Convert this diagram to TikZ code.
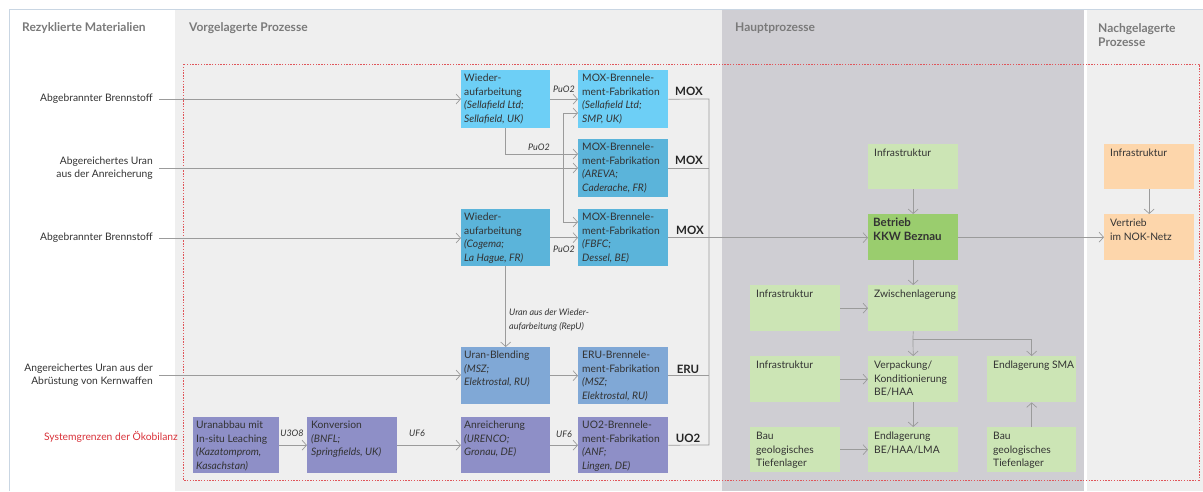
\documentclass[tikz,border=0pt]{standalone}
\usepackage{fontspec}
\setmainfont{Lato}
\usetikzlibrary{arrows.meta}
\definecolor{bgL}{HTML}{EFEFEF}
\definecolor{bgD}{HTML}{CFCED3}
\definecolor{frameC}{HTML}{C9D6E3}
\definecolor{redC}{HTML}{E0555A}
\definecolor{redT}{HTML}{D9323A}
\definecolor{lineC}{HTML}{9B9B9B}
\definecolor{cyanA}{HTML}{6DCFF6}
\definecolor{cyanB}{HTML}{5BB4DA}
\definecolor{steel}{HTML}{80A8D6}
\definecolor{lav}{HTML}{8E8FC7}
\definecolor{grnL}{HTML}{CCE5B5}
\definecolor{grnD}{HTML}{9ACD6E}
\definecolor{orn}{HTML}{FDD6AB}
\definecolor{hdr}{HTML}{7A7A7A}
\definecolor{txt}{HTML}{333333}
\newcommand{\mkbox}[9]{% name x y w h fill padx pady text
  \node[boxst, fill=#6, minimum width=#4pt, minimum height=#5pt] (#1) at (#2,#3) {};
  \node[btxt] (#1-t) at ([xshift=#7pt,yshift=-#8pt]#1.north west) {#9};
}
\begin{document}
\begin{tikzpicture}[x=1pt,y=-1pt,
  boxst/.style={draw=none, inner sep=0pt, anchor=north west},
  btxt/.style={anchor=north west, inner sep=0pt, align=left, font=\fontsize{10.3}{13.6}\selectfont, text=txt},
  ln/.style={draw=lineC, line width=0.7pt},
  arr/.style={ln, -{Straight Barb[length=4.5pt,width=10pt]}},
  hd/.style={font=\bfseries\fontsize{12}{14}\selectfont, text=hdr, inner sep=0pt, align=left},
  inl/.style={font=\fontsize{10.3}{13.2}\selectfont, text=txt, inner sep=0pt, align=right, anchor=east},
  sm/.style={font=\itshape\fontsize{9}{13.5}\selectfont, text=txt, inner sep=0pt, align=left},
  fl/.style={font=\bfseries\fontsize{11.5}{13}\selectfont, text=black!85, inner sep=0pt}
]
\useasboundingbox (0,0) rectangle (1203,491);
% panels
\fill[white] (0,0) rectangle (1203,491);
\fill[bgL] (175,9) rectangle (722,491);
\fill[bgD] (722,9) rectangle (1084,491);
\fill[bgL] (1087,9) rectangle (1203,491);
\draw[frameC, line width=0.8pt] (9,491) -- (9,9) -- (1203,9);
% headers
\node[hd, anchor=west] (h1) at (22,28) {Rezyklierte Materialien};
\node[hd, anchor=west] (h2) at (189,28) {Vorgelagerte Prozesse};
\node[hd, anchor=west] (h3) at (735,28) {Hauptprozesse};
\node[hd, anchor=west] (h4) at (1098,35) {Nachgelagerte\\Prozesse};
% system boundary
\draw[redC, line width=0.6pt, dash pattern=on 1.4pt off 1.4pt] (183,64) rectangle (1199,480);
\node[font=\fontsize{10.3}{12}\selectfont, text=redT, inner sep=0pt, anchor=east] (sys) at (178,437) {Systemgrenzen der Ökobilanz};
% input labels
\node[inl] (in1) at (153,99) {Abgebrannter Brennstoff};
\node[inl] (in2) at (153,168) {Abgereichertes Uran\\aus der Anreicherung};
\node[inl] (in3) at (153,238) {Abgebrannter Brennstoff};
\node[inl] (in4) at (153,375) {Angereichertes Uran aus der\\Abrüstung von Kernwaffen};
% blue boxes
\mkbox{wa1}{461}{70}{89}{58}{cyanA}{3}{4}{Wieder-\\aufarbeitung\\\textit{(Sellafield Ltd;}\\\textit{Sellafield, UK)}}
\mkbox{mox1}{578}{70}{90}{58}{cyanA}{4}{4}{MOX-Brennele-\\ment-Fabrikation\\\textit{(Sellafield Ltd;}\\\textit{SMP, UK)}}
\mkbox{mox2}{578}{139}{90}{58}{cyanB}{4}{4}{MOX-Brennele-\\ment-Fabrikation\\\textit{(AREVA;}\\\textit{Caderache, FR)}}
\mkbox{wa2}{461}{209}{89}{57}{cyanB}{3}{4}{Wieder-\\aufarbeitung\\\textit{(Cogema;}\\\textit{La Hague, FR)}}
\mkbox{mox3}{578}{209}{90}{57}{cyanB}{4}{4}{MOX-Brennele-\\ment-Fabrikation\\\textit{(FBFC;}\\\textit{Dessel, BE)}}
\mkbox{ub}{461}{347}{89}{57}{steel}{3}{4}{Uran-Blending\\\textit{(MSZ;}\\\textit{Elektrostal, RU)}}
\mkbox{eru}{578}{347}{90}{57}{steel}{4}{4}{ERU-Brennele-\\ment-Fabrikation\\\textit{(MSZ;}\\\textit{Elektrostal, RU)}}
\mkbox{um}{193}{417}{86}{56}{lav}{3}{4}{Uranabbau mit\\In-situ Leaching\\\textit{(Kazatomprom,}\\\textit{Kasachstan)}}
\mkbox{kon}{307}{417}{90}{56}{lav}{4}{4}{Konversion\\\textit{(BNFL;}\\\textit{Springfields, UK)}}
\mkbox{anr}{461}{417}{89}{56}{lav}{3}{4}{Anreicherung\\\textit{(URENCO;}\\\textit{Gronau, DE)}}
\mkbox{uo2}{578}{417}{90}{56}{lav}{4}{4}{UO2-Brennele-\\ment-Fabrikation\\\textit{(ANF;}\\\textit{Lingen, DE)}}
% green / orange boxes
\mkbox{inf1}{868}{144}{90}{45}{grnL}{6}{5}{Infrastruktur}
\mkbox{betr}{868}{214}{90}{46}{grnD}{5}{4}{\bfseries\fontsize{11.5}{14}\selectfont Betrieb\\\bfseries\fontsize{11.5}{14}\selectfont KKW Beznau}
\mkbox{zw}{868}{285}{90}{46}{grnL}{6}{5}{Zwischenlagerung}
\mkbox{inf2}{750}{285}{90}{46}{grnL}{6}{5}{Infrastruktur}
\mkbox{verp}{868}{356}{90}{46}{grnL}{6}{5}{Verpackung/\\Konditionierung\\BE/HAA}
\mkbox{inf3}{750}{356}{90}{46}{grnL}{6}{5}{Infrastruktur}
\mkbox{sma}{987}{356}{89}{46}{grnL}{6}{5}{Endlagerung SMA}
\mkbox{endl}{868}{427}{90}{45}{grnL}{6}{5}{Endlagerung\\BE/HAA/LMA}
\mkbox{bau1}{750}{427}{90}{45}{grnL}{6}{5}{Bau\\geologisches\\Tiefenlager}
\mkbox{bau2}{987}{427}{89}{45}{grnL}{6}{5}{Bau\\geologisches\\Tiefenlager}
\mkbox{oinf}{1104}{144}{90}{45}{orn}{6}{5}{Infrastruktur}
\mkbox{vert}{1104}{214}{90}{46}{orn}{6}{5}{Vertrieb\\im NOK-Netz}
% input connectors
\draw[arr, shorten <=6pt] (in1.east) -- (in1.east -| wa1.west);
\draw[arr, shorten <=6pt] (in2.east) -- (in2.east -| mox2.west);
\draw[arr, shorten <=6pt] (in3.east) -- (in3.east -| wa2.west);
\draw[arr, shorten <=6pt] (in4.east) -- (in4.east -| ub.west);
% branch of depleted uranium
\coordinate (j1) at (563,168);
\coordinate (m1in) at (578,113);
\coordinate (m3in) at (578,222);
\draw[arr] (j1) |- (m1in);
\draw[arr] (j1) |- (m3in);
% PuO2
\draw[arr] (wa1.east) -- (wa1.east -| mox1.west);
\node[sm] (lp1) at (564,89) {PuO2};
\coordinate (m2p) at (578,154);
\draw[arr] (wa1.south) |- (m2p);
\node[sm] (lp2) at (539,147) {PuO2};
\draw[arr] (wa2.east) -- (wa2.east -| mox3.west);
\node[sm] (lp3) at (564,249) {PuO2};
% RepU
\draw[arr] (wa2.south) -- (ub.north);
\node[sm, anchor=west] (lrepu) at (509,320) {Uran aus der Wieder-\\aufarbeitung (RepU)};
\draw[arr] (ub.east) -- (ub.east -| eru.west);
% uranium chain
\draw[arr] (um.east) -- (um.east -| kon.west);
\node[sm] (lu3) at (292,433) {U3O8};
\draw[arr] (kon.east) -- (kon.east -| anr.west);
\node[sm] (luf1) at (417,433) {UF6};
\draw[arr] (anr.east) -- (anr.east -| uo2.west);
\node[sm] (luf2) at (564,434) {UF6};
% collector
\coordinate (cTop) at (709,99);
\coordinate (cBot) at (709,445);
\draw[ln] (mox1.east) -- (cTop) -- (cBot) -- (uo2.east);
\draw[ln] (mox2.east) -- (mox2.east -| cTop);
\draw[ln] (eru.east) -- (eru.east -| cTop);
\draw[arr] (mox3.east) -- (mox3.east -| betr.west);
\node[fl] (f1) at (689,91) {MOX};
\node[fl] (f2) at (689,160) {MOX};
\node[fl] (f3) at (690,230) {MOX};
\node[fl] (f4) at (688,369) {ERU};
\node[fl] (f5) at (688,438) {UO2};
% main processes
\draw[arr] (inf1.south) -- (betr.north);
\draw[arr] (betr.east) -- (betr.east -| vert.west);
\draw[arr] (oinf.south) -- (vert.north);
\draw[arr] (betr.south) -- (zw.north);
\draw[arr] (inf2.east) -- (inf2.east -| zw.west);
\coordinate (br) at (913,339);
\draw[ln] (zw.south) -- (br);
\draw[arr] (br) -- (verp.north);
\draw[arr] (br) -| (sma.north);
\draw[arr] (inf3.east) -- (inf3.east -| verp.west);
\draw[arr] (verp.south) -- (endl.north);
\draw[arr] (bau1.east) -- (bau1.east -| endl.west);
\draw[arr] (bau2.north) -- (sma.south);
\end{tikzpicture}
\end{document}
